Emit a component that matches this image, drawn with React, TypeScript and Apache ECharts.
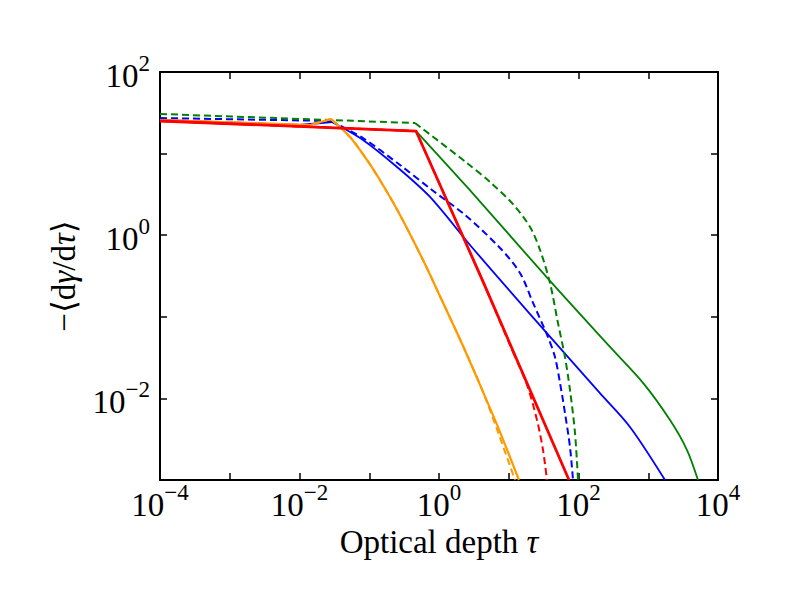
import React, { useEffect, useRef } from "react";
import * as echarts from "echarts";

// ---- data (tau, -<dgamma/dtau>) ----
// Each curve: a straight part up to its knee (index *Knee), then a smooth tail.
const orangeX = [1e-4, 0.0142, 0.0283, 0.053, 0.0929, 0.157, 0.276, 0.59, 1.03, 2.21, 4.28, 7.5, 14.0];
const orangeY = [25.8, 22.4, 26.5, 16.0, 8.35, 4.12, 1.77, 0.497, 0.18, 0.0439, 0.012, 0.00387, 0.001];
const orangeKnee = 2;
const orangeDashX = [1e-4, 0.0142, 0.0283, 0.053, 0.0929, 0.157, 0.276, 0.59, 1.03, 2.21, 4.28, 7.01, 12.3];
const orangeDashY = [25.8, 22.4, 26.5, 16.0, 8.35, 4.12, 1.77, 0.497, 0.18, 0.0439, 0.012, 0.00387, 0.001];
const orangeDashKnee = 2;

const blueX = [1e-4, 0.01, 0.0292, 0.0813, 0.25, 0.743, 2.78, 20.2, 203, 547, 1738];
const blueY = [25.8, 22.4, 24.4, 14.7, 6.85, 2.94, 0.759, 0.108, 0.0116, 0.00447, 0.001];
const blueKnee = 2;
const blueDashX = [1e-4, 0.0283, 0.0813, 0.276, 0.794, 2.36, 7.5, 14.5, 22.3, 36.5, 46.0, 54.3, 64.0, 75.5, 83.4];
const blueDashY = [27.3, 25.1, 15.5, 7.25, 3.58, 1.77, 0.697, 0.344, 0.148, 0.0565, 0.0321, 0.0155, 0.00662, 0.00254, 0.001];
const blueDashKnee = 1;

const greenX = [1e-4, 0.468, 2.52, 39.0, 283, 841, 2051, 3594, 5160];
const greenY = [25.1, 18.9, 3.9, 0.275, 0.0427, 0.0155, 0.00543, 0.00233, 0.001];
const greenKnee = 1;
const greenDashX = [1e-4, 0.453, 2.52, 5.38, 11.5, 20.2, 28.1, 39.0, 50.8, 64.0, 75.5, 89.1, 98.4];
const greenDashY = [30.6, 23.7, 7.67, 4.49, 2.4, 1.26, 0.659, 0.26, 0.0839, 0.0321, 0.0127, 0.00377, 0.001];
const greenDashKnee = 1;

const redX = [1e-4, 0.468, 4.28, 73.1];
const redY = [25.1, 18.9, 0.27, 0.001];
const redKnee = 3;
const redDashX = [1e-4, 0.468, 4.28, 11.5, 18.3, 25.4, 31.0, 35.3];
const redDashY = [25.1, 18.9, 0.27, 0.037, 0.0146, 0.00543, 0.00233, 0.001];
const redDashKnee = 3;

// labelled decades
const xTickExponents = [-4, -2, 0, 2, 4];
const yTickExponents = [-2, 0, 2];

const X_MIN = 1e-4;
const X_MAX = 1e4;
const Y_MIN = 1e-3;
const Y_MAX = 1e2;

const FONT = "'Liberation Serif', 'DejaVu Serif', 'Times New Roman', serif";

const pairs = (xs: number[], ys: number[]) => xs.map((x, i) => [x, ys[i]]);

const makeFormatter = (exps: number[]) => (v: number) => {
  const e = Math.round(Math.log10(v));
  if (!exps.includes(e)) return "";
  const s = e < 0 ? "\u2212" + String(-e) : String(e);
  return `{b|10}{s|${s}}`;
};

const labelRich = {
  b: { fontFamily: FONT, fontSize: 33, lineHeight: 40, verticalAlign: "bottom", color: "#000" },
  s: { fontFamily: FONT, fontSize: 23, lineHeight: 23, verticalAlign: "top", color: "#000" },
};

const axisLineStyle = { color: "#000", width: 2 };
const tickStyle = { show: true, inside: true, length: 7, lineStyle: { color: "#000", width: 1.5 } };

function seg(data: number[][], color: string, width: number, dashed: boolean, smooth: boolean) {
  return {
    type: "line",
    xAxisIndex: 0,
    yAxisIndex: 0,
    data,
    showSymbol: false,
    symbol: "none",
    smooth: smooth ? 0.3 : false,
    clip: true,
    silent: true,
    lineStyle: { color, width, type: dashed ? [7, 4] : "solid", cap: "butt", join: "miter" },
    emphasis: { disabled: true },
  };
}

function curve(xs: number[], ys: number[], knee: number, color: string, width: number, dashed: boolean) {
  const all = pairs(xs, ys);
  const head = all.slice(0, knee + 1);
  const tail = all.slice(knee);
  const out = [seg(head, color, width, dashed, false)];
  if (tail.length > 1) out.push(seg(tail, color, width, dashed, true));
  return out;
}

export default function App() {
  const ref = useRef<HTMLDivElement>(null);

  useEffect(() => {
    if (!ref.current) return;
    const chart = echarts.init(ref.current, undefined, { renderer: "svg" });
    const option: any = {
      animation: false,
      backgroundColor: "#fff",
      grid: { left: 160, right: 82, top: 72, bottom: 120, containLabel: false, outerBoundsMode: "none" },
      xAxis: [
        {
          type: "log",
          logBase: 10,
          min: X_MIN,
          max: X_MAX,
          position: "bottom",
          name: "Optical depth {i|\u03C4}",
          nameLocation: "middle",
          nameGap: 42,
          nameTextStyle: {
            fontFamily: FONT,
            fontSize: 33,
            color: "#000",
            rich: { i: { fontFamily: FONT, fontSize: 33, fontStyle: "italic", color: "#000" } },
          },
          axisLine: { show: true, lineStyle: axisLineStyle },
          axisTick: tickStyle,
          minorTick: { show: false },
          splitLine: { show: false },
          axisLabel: { show: true, margin: 1, formatter: makeFormatter(xTickExponents), rich: labelRich },
        },
        {
          type: "log",
          logBase: 10,
          min: X_MIN,
          max: X_MAX,
          position: "top",
          axisLine: { show: true, lineStyle: axisLineStyle },
          axisTick: tickStyle,
          splitLine: { show: false },
          axisLabel: { show: false },
        },
      ],
      yAxis: [
        {
          type: "log",
          logBase: 10,
          min: Y_MIN,
          max: Y_MAX,
          position: "left",
          name: "\u2212\u27E8d{i|\u03B3}/d{i|\u03C4}\u27E9",
          nameLocation: "middle",
          nameGap: 80,
          nameRotate: 90,
          nameTextStyle: {
            fontFamily: FONT,
            fontSize: 33,
            color: "#000",
            rich: { i: { fontFamily: FONT, fontSize: 33, fontStyle: "italic", color: "#000" } },
          },
          axisLine: { show: true, lineStyle: axisLineStyle },
          axisTick: tickStyle,
          splitLine: { show: false },
          axisLabel: { show: true, margin: 10, formatter: makeFormatter(yTickExponents), rich: labelRich },
        },
        {
          type: "log",
          logBase: 10,
          min: Y_MIN,
          max: Y_MAX,
          position: "right",
          axisLine: { show: true, lineStyle: axisLineStyle },
          axisTick: tickStyle,
          splitLine: { show: false },
          axisLabel: { show: false },
        },
      ],
      series: [
        ...curve(blueDashX, blueDashY, blueDashKnee, "#0000ff", 2, true),
        ...curve(blueX, blueY, blueKnee, "#0000ff", 1.8, false),
        ...curve(greenDashX, greenDashY, greenDashKnee, "#008000", 2, true),
        ...curve(greenX, greenY, greenKnee, "#008000", 1.8, false),
        ...curve(orangeDashX, orangeDashY, orangeDashKnee, "#ff9900", 2, true),
        ...curve(orangeX, orangeY, orangeKnee, "#ff9900", 2.2, false),
        ...curve(redDashX, redDashY, redDashKnee, "#ff0000", 2, true),
        ...curve(redX, redY, redKnee, "#ff0000", 2.8, false),
      ],
    };
    chart.setOption(option);
    return () => chart.dispose();
  }, []);

  return (
    <div
      ref={ref}
      style={{ position: "fixed", left: 0, top: 0, width: 800, height: 600, background: "#fff" }}
    />
  );
}
